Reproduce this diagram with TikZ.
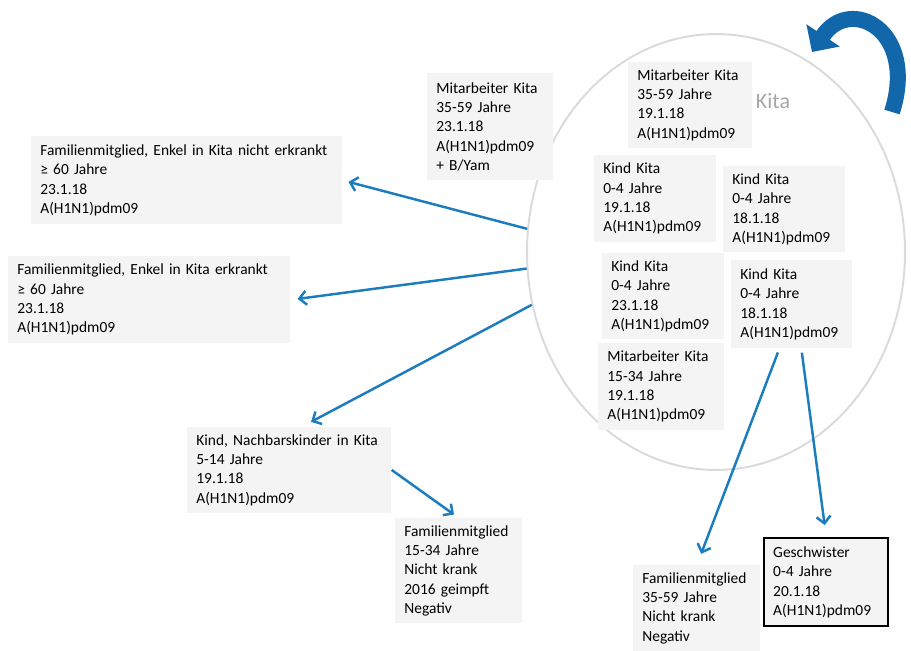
\documentclass[tikz,border=0pt]{standalone}
\usepackage{fontspec}
\setmainfont{Carlito}
\usetikzlibrary{arrows.meta,shapes.geometric}
\definecolor{boxgray}{RGB}{244,244,244}
\definecolor{ringgray}{RGB}{218,218,218}
\definecolor{labelgray}{RGB}{166,166,166}
\definecolor{linkblue}{RGB}{27,124,190}
\definecolor{loopblue}{RGB}{18,102,170}
\tikzset{
	infobox/.style={fill=boxgray, anchor=north west, align=left, inner xsep=0.18cm, inner ysep=0.14cm, font=\fontsize{8.8}{11}\selectfont},
	link/.style={draw=linkblue, line width=1.4pt, -{Straight Barb[length=4pt,width=8pt]}},
}
\begin{document}
\begin{tikzpicture}[x=0.02cm,y=-0.02cm]
			\useasboundingbox (0,0) rectangle (911,650);

			% Ring
			\node[ellipse, draw=ringgray, line width=1.1pt, minimum width=7.56cm, minimum height=8.72cm] (kita) at (716,252) {};
			\node[text=labelgray, font=\fontsize{12.5}{15}\selectfont] (kitaLabel) at (773,101) {Kita};

			% Nodes inside the ring
			\node[infobox, text width=2.12cm, minimum height=1.68cm] (mit3559) at (628,62) {Mitarbeiter Kita\\35-59 Jahre\\19.1.18\\A(H1N1)pdm09};
			\node[infobox, text width=2.08cm, minimum height=1.74cm] (kind19) at (594,155) {Kind Kita\\0-4 Jahre\\19.1.18\\A(H1N1)pdm09};
			\node[infobox, text width=2.08cm, minimum height=1.72cm] (kind18a) at (723,166) {Kind Kita\\0-4 Jahre\\18.1.18\\A(H1N1)pdm09};
			\node[infobox, text width=2.08cm, minimum height=1.72cm] (kind23) at (602,253) {Kind Kita\\0-4 Jahre\\23.1.18\\A(H1N1)pdm09};
			\node[infobox, text width=2.06cm, minimum height=1.76cm] (kind18b) at (731,260) {Kind Kita\\0-4 Jahre\\18.1.18\\A(H1N1)pdm09};
			\node[infobox, text width=2.16cm, minimum height=1.74cm] (mit1534) at (598,343) {Mitarbeiter Kita\\15-34 Jahre\\19.1.18\\A(H1N1)pdm09};

			% Nodes outside
			\node[infobox, text width=2.16cm, minimum height=2.14cm] (mitOut) at (427,73) {Mitarbeiter Kita\\35-59 Jahre\\23.1.18\\A(H1N1)pdm09\\+ B/Yam};
			\node[infobox, text width=5.86cm, minimum height=1.76cm] (famNicht) at (31,136) {Familienmitglied, Enkel in Kita nicht erkrankt\\≥ 60 Jahre\\23.1.18\\A(H1N1)pdm09};
			\node[infobox, text width=5.28cm, minimum height=1.74cm] (famErk) at (8,256) {Familienmitglied, Enkel in Kita erkrankt\\≥ 60 Jahre\\23.1.18\\A(H1N1)pdm09};
			\node[infobox, text width=3.72cm, minimum height=1.70cm] (kindNach) at (187,427) {Kind, Nachbarskinder in Kita\\5-14 Jahre\\19.1.18\\A(H1N1)pdm09};
			\node[infobox, text width=2.18cm, minimum height=2.10cm] (fam1534) at (395,518) {Familienmitglied\\15-34 Jahre\\Nicht krank\\2016 geimpft\\Negativ};
			\node[infobox, text width=2.18cm, minimum height=1.70cm] (fam3559) at (633,565) {Familienmitglied\\35-59 Jahre\\Nicht krank\\Negativ};
			\node[infobox, draw=black, line width=1.4pt, text width=2.12cm, minimum height=1.76cm] (gesch) at (763,537) {Geschwister\\0-4 Jahre\\20.1.18\\A(H1N1)pdm09};

			% Lines going out of the ring
			\draw[link, shorten >=0.12cm] (kita.173) to (famNicht.east);
			\draw[link, shorten >=0.14cm] (kita.185) to (famErk.east);
			\draw[link, shorten >=0.22cm] (kita.196) to ([xshift=0.24cm]kindNach.north);

			% Lines going to contacts
			\draw[link, shorten >=0.12cm] (kindNach.east) to (fam1534.north);
			\draw[link, shorten <=0.08cm, shorten >=0.24cm] ([xshift=-0.25cm]kind18b.south) to (fam3559.north);
			\draw[link, shorten <=0.08cm, shorten >=0.24cm] ([xshift=0.19cm]kind18b.south) to (gesch.north);

			% Curved arrow
			\coordinate (loopTail) at (892,112);
			\coordinate (loopHead) at (812,52);
			\draw[loopblue, line width=0.32cm, -{Triangle[length=0.4cm,width=0.78cm]}] (loopTail) .. controls (918,30) and (850,-5) .. (loopHead);

		\end{tikzpicture}
\end{document}
